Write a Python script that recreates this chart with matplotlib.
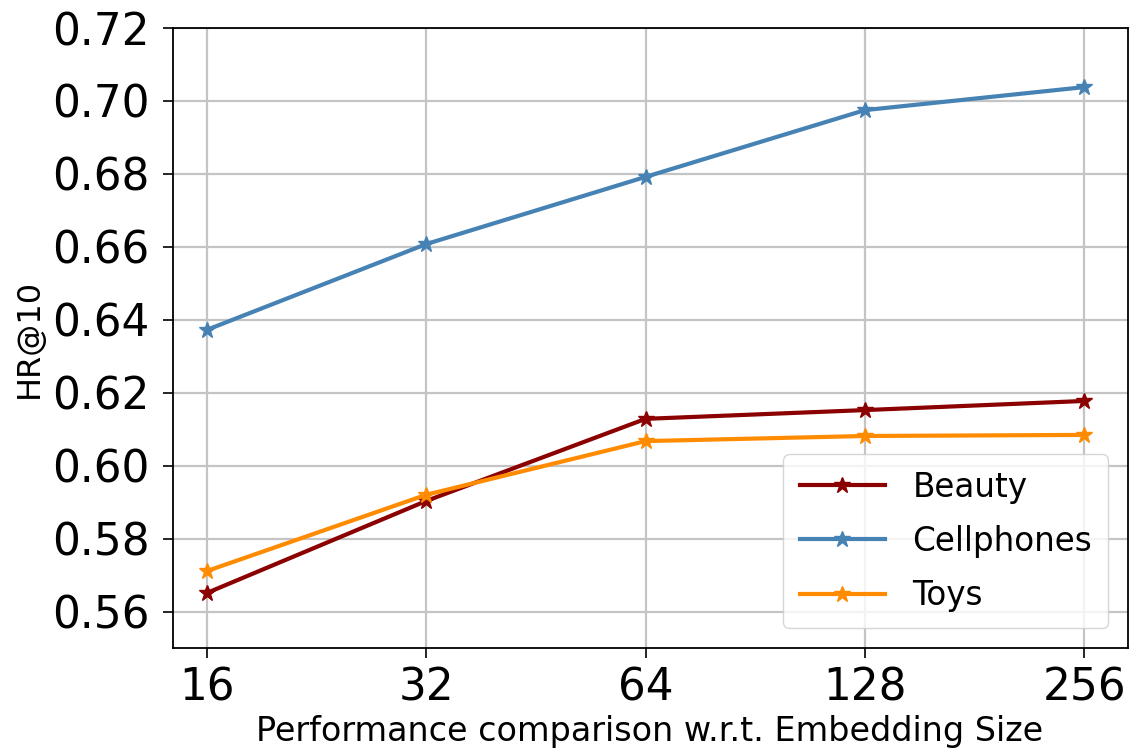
import matplotlib
matplotlib.use("Agg")
import matplotlib.pyplot as plt

# embedding sizes (categorical x axis)
SIZES = ["16", "32", "64", "128", "256"]

# HR@10
BEAUTY = [0.5652, 0.5904, 0.6129, 0.6153, 0.6178]
CELLPHONES = [0.6373, 0.6608, 0.6792, 0.6975, 0.7038]
TOYS = [0.5712, 0.5921, 0.6068, 0.6082, 0.6085]

Y_TICKS = [0.56, 0.58, 0.60, 0.62, 0.64, 0.66, 0.68, 0.70, 0.72]

fig = plt.figure(figsize=(11.32, 7.55), dpi=100)
ax = fig.add_axes([0.1528, 0.1417, 0.8437, 0.8212])

x = range(len(SIZES))
ax.plot(x, BEAUTY, "*-", color="#8b0000", lw=3, ms=12, label="Beauty")
ax.plot(x, CELLPHONES, "*-", color="#4682b4", lw=3, ms=12, label="Cellphones")
ax.plot(x, TOYS, "*-", color="#ff8c00", lw=3, ms=12, label="Toys")

ax.set_xticks(list(x))
ax.set_xticklabels(SIZES)
ax.set_yticks(Y_TICKS)
ax.set_yticklabels([f"{v:.2f}" for v in Y_TICKS])
ax.set_xlim(-0.155, 4.2)
ax.set_ylim(0.5501, 0.72)
ax.tick_params(labelsize=31.5, length=7, width=1.2)
ax.tick_params(axis="x", pad=6)
ax.tick_params(axis="y", pad=10)
ax.grid(True, color="#c4c4c4", lw=1.6)
ax.set_axisbelow(True)
for s in ax.spines.values():
    s.set_linewidth(1.3)

# the reference crops this label at the bottom edge; keep it just inside
ax.set_xlabel("Performance comparison w.r.t. Embedding Size", fontsize=24)
ax.xaxis.set_label_coords(0.4995, -0.108)
ax.set_ylabel("HR@10", fontsize=23)
ax.yaxis.set_label_coords(-0.134, 0.5)

ax.legend(loc="lower right", fontsize=23.5, handlelength=2.6, labelspacing=0.65,
          handletextpad=0.85, borderaxespad=0.6, borderpad=0.5)

fig.savefig("out.png", dpi=100)
